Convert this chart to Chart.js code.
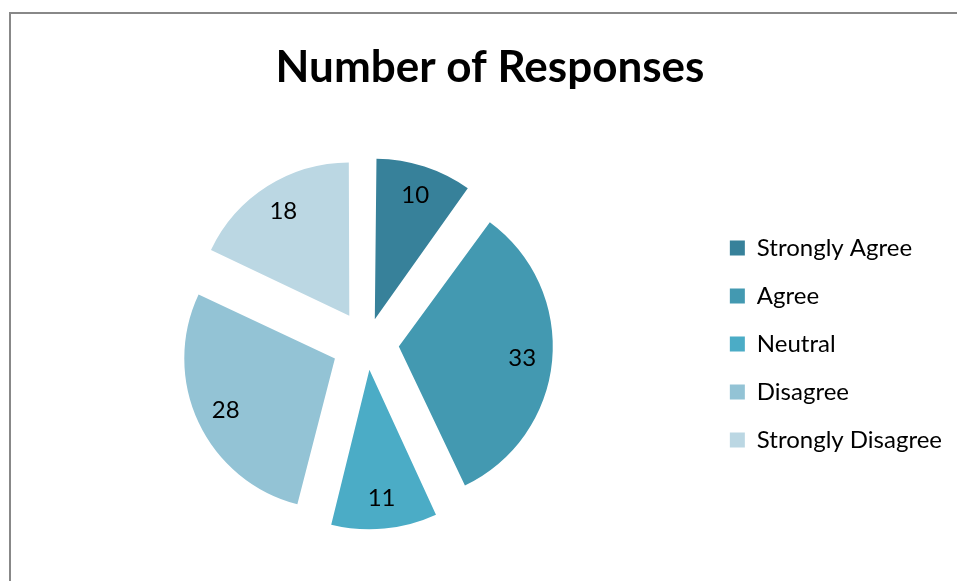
<!DOCTYPE html>
<html>
<head>
<meta charset="utf-8">
<script src="https://cdn.jsdelivr.net/npm/chart.js@4"></script>
<style>
  html, body { margin: 0; padding: 0; background: #fff; overflow: hidden; }
  #box {
    position: absolute; left: 9px; top: 12px;
    width: 980px; height: 600px;
    border: 2px solid #888;
  }
  #wrap { position: absolute; left: 1px; top: 0; width: 956px; height: 567px; }
</style>
</head>
<body>
<div id="box"><div id="wrap"><canvas id="chart"></canvas></div></div>
<script>
const categories = ['Strongly Agree', 'Agree', 'Neutral', 'Disagree', 'Strongly Disagree'];
const responses = [10, 33, 11, 28, 18];
const sliceColors = ['#37819A', '#4399B1', '#4BACC6', '#93C3D5', '#BBD7E3'];

const FONT = 'Lato, "Open Sans", sans-serif';
const EXPLODE = 36;   // how far each slice is pulled out, px
const RADIUS = 150;

const total = responses.reduce((a, b) => a + b, 0);

// ArcElement moves a slice by offset/4 * (2 - sin(angle)), so scale the
// offset per slice to get the same pull-out on every one
function sliceOffset(ctx) {
  const circ = 2 * Math.PI * responses[ctx.dataIndex] / total;
  const fix = 1 - Math.sin(Math.min(Math.PI, circ));
  return 4 * EXPLODE / (1 + fix);
}

// nudge the legend block down and left once the layout is done
const legendNudge = {
  id: 'legendNudge',
  afterLayout(chart) {
    const lg = chart.legend;
    if (!lg) return;
    lg.left -= 16; lg.right -= 16;
    lg.top += 47; lg.bottom += 47;
  }
};

const valueLabels = {
  id: 'valueLabels',
  afterDatasetsDraw(chart) {
    const c = chart.ctx;
    const meta = chart.getDatasetMeta(0);
    c.save();
    c.font = '24px ' + FONT;
    c.fillStyle = '#000';
    c.textAlign = 'center';
    c.textBaseline = 'middle';
    meta.data.forEach((arc, i) => {
      const mid = (arc.startAngle + arc.endAngle) / 2;
      const d = EXPLODE + arc.outerRadius * 0.8;
      c.fillText(String(responses[i]), arc.x + Math.cos(mid) * d, arc.y + Math.sin(mid) * d);
    });
    c.restore();
  }
};

new Chart(document.getElementById('chart'), {
  type: 'pie',
  data: {
    labels: categories,
    datasets: [{
      data: responses,
      backgroundColor: sliceColors,
      borderWidth: 0,
      offset: sliceOffset,
      radius: RADIUS
    }]
  },
  options: {
    responsive: true,
    maintainAspectRatio: false,
    animation: false,
    layout: { padding: { left: 0, right: 0, top: 0, bottom: 1 } },
    plugins: {
      title: {
        display: true,
        text: 'Number of Responses',
        color: '#000',
        font: { family: FONT, size: 44, weight: 'bold' },
        padding: { top: 27, bottom: 13 }
      },
      legend: {
        position: 'right',
        labels: {
          boxWidth: 15,
          boxHeight: 15,
          padding: 24,
          color: '#000',
          font: { family: FONT, size: 24 }
        }
      },
      tooltip: { enabled: false }
    }
  },
  plugins: [legendNudge, valueLabels]
});
</script>
</body>
</html>
